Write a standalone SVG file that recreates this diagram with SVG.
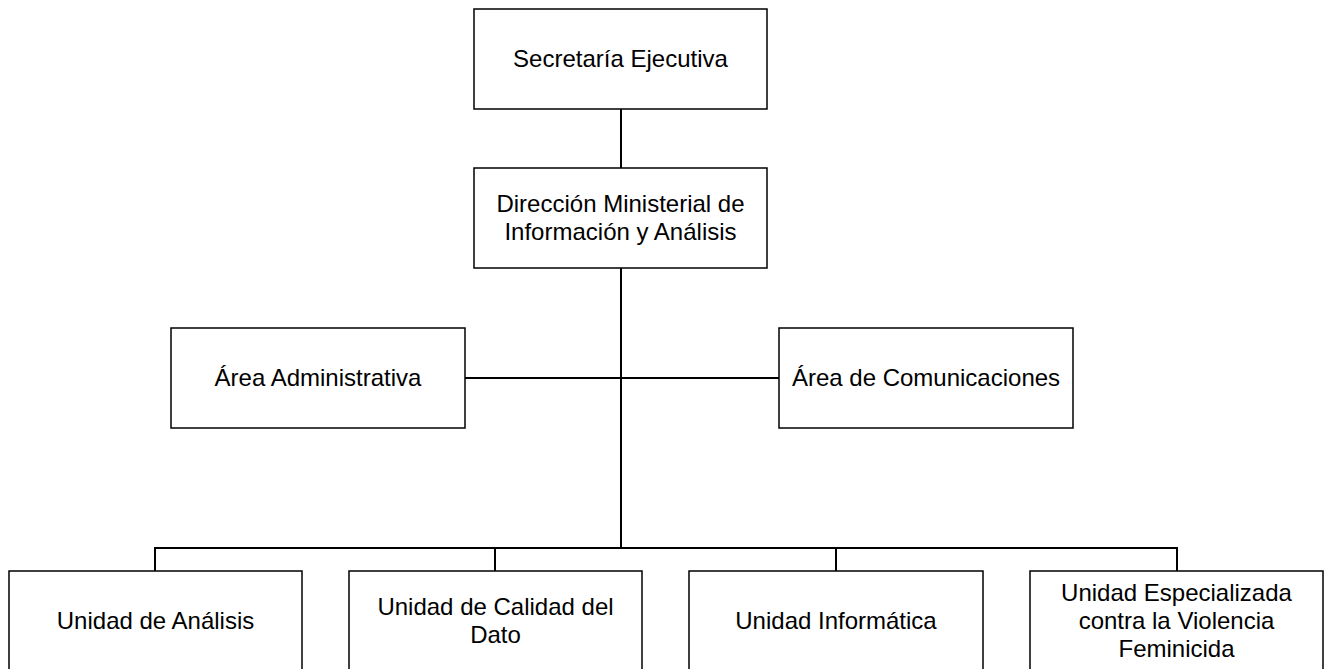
<svg xmlns="http://www.w3.org/2000/svg" width="1329" height="669" viewBox="0 0 1329 669">
<style>
.box{fill:#fff;stroke:#000;stroke-width:1.5}
.t{font-family:"Liberation Sans",Arial,sans-serif;font-size:24px;fill:#000;text-anchor:middle}
.c{fill:none;stroke:#000;stroke-width:2}
</style>
<rect width="1329" height="669" fill="#fff"/>
<g id="connectors">
<line class="c" x1="621" y1="109" x2="621" y2="168"/>
<line class="c" x1="621" y1="268" x2="621" y2="548"/>
<line class="c" x1="465" y1="378" x2="779" y2="378"/>
<polyline class="c" points="155,571 155,548 1177,548 1177,571"/>
<line class="c" x1="495" y1="548" x2="495" y2="571"/>
<line class="c" x1="836" y1="548" x2="836" y2="571"/>
</g>
<g id="n1"><rect class="box" x="474" y="9" width="293" height="100"/><text class="t" x="620.5" y="67">Secretaría Ejecutiva</text></g>
<g id="n2"><rect class="box" x="474" y="168" width="293" height="100"/><text class="t" x="620.5" y="212">Dirección Ministerial de</text><text class="t" x="620.5" y="240">Información y Análisis</text></g>
<g id="n3"><rect class="box" x="171" y="328" width="294" height="100"/><text class="t" x="318" y="386">Área Administrativa</text></g>
<g id="n4"><rect class="box" x="779" y="328" width="294" height="100"/><text class="t" x="926" y="386">Área de Comunicaciones</text></g>
<g id="n5"><rect class="box" x="9" y="571" width="293" height="100"/><text class="t" x="155.5" y="629">Unidad de Análisis</text></g>
<g id="n6"><rect class="box" x="349" y="571" width="293" height="100"/><text class="t" x="495.5" y="615">Unidad de Calidad del</text><text class="t" x="495.5" y="643">Dato</text></g>
<g id="n7"><rect class="box" x="689" y="571" width="294" height="100"/><text class="t" x="836" y="629">Unidad Informática</text></g>
<g id="n8"><rect class="box" x="1030" y="571" width="293" height="100"/><text class="t" x="1176.5" y="601">Unidad Especializada</text><text class="t" x="1176.5" y="629">contra la Violencia</text><text class="t" x="1176.5" y="657">Feminicida</text></g>
</svg>
